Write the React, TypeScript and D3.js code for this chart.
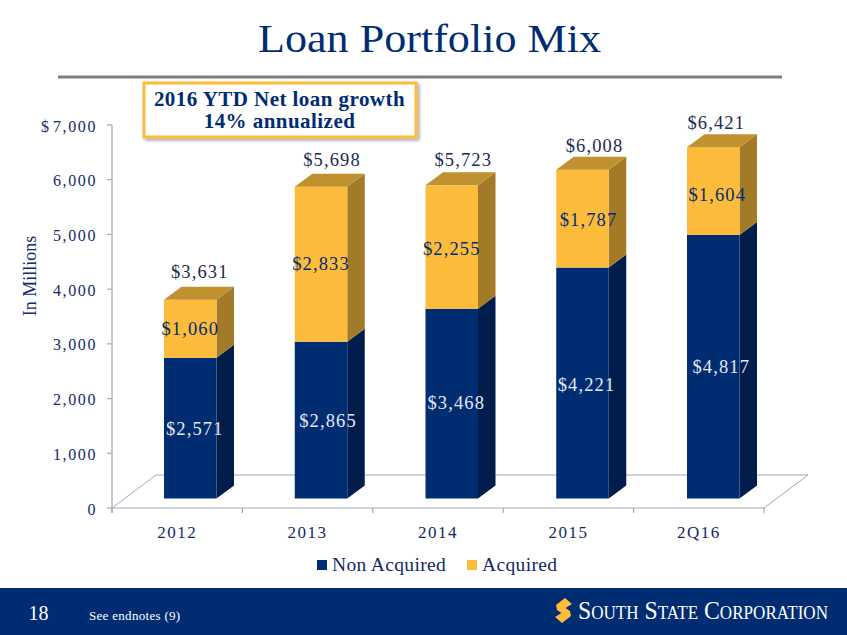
import React from "react";
import * as d3 from "d3";

const categories = ["2012", "2013", "2014", "2015", "2Q16"];
const nonAcquired = [2571, 2865, 3468, 4221, 4817];
const acquired = [1060, 2833, 2255, 1787, 1604];
const totals = [3631, 5698, 5723, 6008, 6421];
const yTicks = [0, 1000, 2000, 3000, 4000, 5000, 6000, 7000];

// hand placement of labels, as nudges from the default spot
const nonOffsetX = [4.5, 7, 4.5, 4, 8];
const nonOffsetY = [1, 1, -1, 2, 0];
const acqOffsetX = [0, 0, 0, 6, 4];
const acqOffsetY = [0, 0, 2, 1, 4];
const totalOffsetX = [9.5, 11, 11.5, 12, 3];
const totalOffsetY = [-28, -27, -25, -24, -24];

const NAVY = "#002d72";
const NAVY_SIDE = "#001d4c";
const GOLD = "#fdbb3b";
const GOLD_SIDE = "#a37a27";
const GOLD_TOP = "#bf912f";
const AXIS = "#a3a8bd";
const TEXT = "#12296a";
const SERIF = "'Liberation Serif', serif";

const DX = 17.5;
const DY = 13;
const FLOOR_FRONT = 508;

const fmt = d3.format(",");

export default function App() {
  const x = d3.scaleBand<string>().domain(categories).range([112, 764]);
  const barX = d3.scalePoint<string>().domain(categories).range([164, 687]);
  const y = d3.scaleLinear().domain([0, 7000]).range([FLOOR_FRONT, 125]);
  const base = 9.5; // bars stand this far behind the floor's front edge
  const barW = 52.5;
  const barLeft = (c: string) => barX(c) as number;
  const by = (v: number) => y(v) - base;
  const poly = (pts: number[][]) => pts.map((p) => p.join(",")).join(" ");

  const stack = d3
    .stack<number>()
    .keys(["non", "acq"])
    .value((i, k) => (k === "non" ? nonAcquired[i] : acquired[i]))(categories.map((_, i) => i));

  const seg = (x0: number, y0: number, y1: number, front: string, side: string) => (
    <g>
      <polygon points={poly([[x0 + barW, y0], [x0 + barW + DX, y0 - DY], [x0 + barW + DX, y1 - DY], [x0 + barW, y1]])} fill={side} />
      <rect x={x0} y={y1} width={barW} height={y0 - y1} fill={front} />
    </g>
  );

  return (
    <svg width={847} height={635} style={{ position: "absolute", left: 0, top: 0, background: "#fff" }} fontFamily={SERIF}>
      <defs>
        <filter id="sh" x="-5%" y="-10%" width="110%" height="125%">
          <feDropShadow dx="2" dy="2" stdDeviation="1.5" floodColor="#000" floodOpacity="0.35" />
        </filter>
      </defs>

      <text x={429.5} y={52} textAnchor="middle" fontSize={41} fill={NAVY} textLength={343} lengthAdjust="spacingAndGlyphs">Loan Portfolio Mix</text>
      <rect x={58} y={75.5} width={724} height={3} fill="#7f7f7f" />

      {/* floor */}
      <polyline points={poly([[112, FLOOR_FRONT], [112 + 44, FLOOR_FRONT - 33], [808, FLOOR_FRONT - 33], [764, FLOOR_FRONT]])} fill="none" stroke={AXIS} strokeWidth={1} />
      {/* y axis */}
      <line x1={112} x2={112} y1={y(7000)} y2={y(0) + 5} stroke={AXIS} strokeWidth={1.2} />
      {yTicks.map((t) => (
        <g key={t}>
          <line x1={107} x2={112} y1={y(t)} y2={y(t)} stroke={AXIS} strokeWidth={1.2} />
          <text x={97} y={y(t) + 6.5} textAnchor="end" fontSize={16} letterSpacing={1.6} fill={TEXT}>
            {t === 7000 ? <tspan letterSpacing={0}>$ </tspan> : null}
            {fmt(t)}
          </text>
        </g>
      ))}
      {/* x axis */}
      <line x1={112} x2={764} y1={y(0)} y2={y(0)} stroke={AXIS} strokeWidth={1.2} />
      {[...categories.map((c) => x(c) as number), 764].map((t) => (
        <line key={t} x1={t} x2={t} y1={y(0)} y2={y(0) + 5} stroke={AXIS} strokeWidth={1.2} />
      ))}
      {categories.map((c) => (
        <text key={c} x={(x(c) as number) + x.bandwidth() / 2} y={537.5} textAnchor="middle" fontSize={17} letterSpacing={1.5} fill={TEXT}>{c}</text>
      ))}

      <text transform="translate(36,276) rotate(-90)" textAnchor="middle" fontSize={18} fill={TEXT}>In Millions</text>

      {/* bars */}
      {categories.map((c, i) => {
        const x0 = barLeft(c);
        const top = by(totals[i]);
        return (
          <g key={c}>
            {seg(x0, by(stack[0][i][0]), by(stack[0][i][1]), NAVY, NAVY_SIDE)}
            {seg(x0, by(stack[0][i][1]), top, GOLD, GOLD_SIDE)}
            <polygon points={poly([[x0, top], [x0 + DX, top - DY], [x0 + barW + DX, top - DY], [x0 + barW, top]])} fill={GOLD_TOP} />
          </g>
        );
      })}

      {/* value labels */}
      {categories.map((c, i) => {
        const cx = barLeft(c) + barW / 2;
        const midNon = (by(stack[0][i][0]) + by(stack[0][i][1])) / 2;
        const midAcq = (by(stack[1][i][0]) + by(stack[1][i][1])) / 2;
        const top = by(totals[i]);
        const common = { textAnchor: "middle" as const, fontSize: 18.5, letterSpacing: 1.1 };
        return (
          <g key={c}>
            <text {...common} x={cx + nonOffsetX[i]} y={midNon + nonOffsetY[i] + 6} fill="#e4e8f2">${fmt(nonAcquired[i])}</text>
            <text {...common} x={cx + acqOffsetX[i]} y={midAcq + acqOffsetY[i] + 6} fill={NAVY}>${fmt(acquired[i])}</text>
            <text {...common} x={cx + totalOffsetX[i]} y={top + totalOffsetY[i] + 6} fill="#1c2a52">${fmt(totals[i])}</text>
          </g>
        );
      })}

      {/* callout */}
      <rect x={144} y={83} width={272} height={54} fill="#fff" stroke={GOLD} strokeWidth={3} filter="url(#sh)" />
      <text x={279.5} y={106} textAnchor="middle" fontSize={21} fontWeight={700} letterSpacing={0.45} fill={NAVY}>2016 YTD Net loan growth</text>
      <text x={279.5} y={128} textAnchor="middle" fontSize={21} fontWeight={700} letterSpacing={0.45} fill={NAVY}>14% annualized</text>

      {/* legend */}
      <rect x={317} y={560} width={10} height={10} fill={NAVY} />
      <text x={332} y={571} fontSize={19.5} letterSpacing={0.35} fill={TEXT}>Non Acquired</text>
      <rect x={467} y={560} width={10} height={10} fill={GOLD} />
      <text x={482} y={571} fontSize={19.5} letterSpacing={0.35} fill={TEXT}>Acquired</text>

      {/* footer */}
      <rect x={0} y={588} width={847} height={47} fill={NAVY} />
      <text x={28.5} y={620} fontSize={20} fill="#fff">18</text>
      <text x={89} y={620} fontSize={13} letterSpacing={0.3} fill="#fff">See endnotes (9)</text>
      <g fill={GOLD}>
        <polygon points="556,605 565,598 572,604 564,609 569,613 566,616 557,610" />
        <polygon points="571,616 562,623 555,617 563,612 558,608 561,605 570,611" />
      </g>
      <text x={578} y={619} fontSize={25} fontWeight={400} fill="#fff" style={{ fontVariant: "small-caps" }} textLength={250} lengthAdjust="spacingAndGlyphs">South State Corporation</text>
    </svg>
  );
}
